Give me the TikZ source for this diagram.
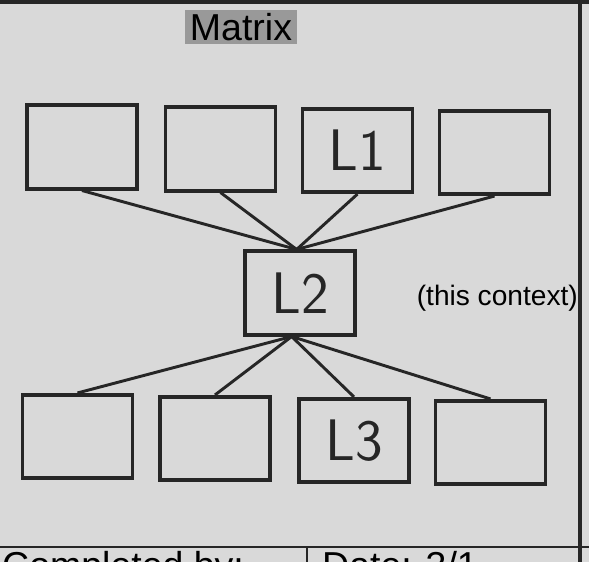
\documentclass[tikz,border=0pt]{standalone}
\usepackage{fontspec}
\setmainfont{Liberation Sans}
\begin{document}
\begin{tikzpicture}[x=0.03cm, y=0.03cm,
  cell/.style={draw=black!85, line width=3.2pt, minimum width=3.3cm,
    minimum height=2.5cm, inner sep=0pt},
  link/.style={draw=black!85, line width=2.5pt},
  hand/.style={font=\sffamily\fontsize{50}{50}\selectfont, text=black!85}]
  % folha
  \useasboundingbox (0,0) rectangle (589,562);
  \clip (0,0) rectangle (589,562);
  \fill[black!15] (0,0) rectangle (589,562);
  % moldura
  \draw[line width=3pt, black!85] (0,560) -- (589,560);
  \draw[line width=3pt, black!85] (580,0) -- (580,562);
  \draw[line width=2.5pt, black!85] (0,15) -- (589,15);
  \draw[line width=2.5pt, black!85] (307,15) -- (307,0);
  % titulo
  \node[fill=black!40, inner xsep=4pt, inner ysep=3pt,
    font=\fontsize{32}{32}\selectfont] (title) at (241,535) {Matrix};
  % linha de cima
  \node[cell] (a1) at (82,415) {};
  \node[cell] (a2) at (220.5,413) {};
  \node[cell, hand] (a3) at (357.5,411.5) {L1};
  \node[cell] (a4) at (494.5,409.5) {};
  % centro
  \node[cell, hand] (l2) at (300,269) {L2};
  \node[anchor=east, inner sep=0pt, font=\fontsize{24}{24}\selectfont]
    (ctx) at (578,264) {(this context)};
  % linha de baixo
  \node[cell] (b1) at (77.5,125.5) {};
  \node[cell] (b2) at (215,123.5) {};
  \node[cell, hand] (b3) at (354,121.5) {L3};
  \node[cell] (b4) at (490.5,119.5) {};
  % ligacoes
  \draw[link] (a1.south) -- ([xshift=-0.1cm]l2.north);
  \draw[link] (a2.south) -- ([xshift=-0.1cm]l2.north);
  \draw[link] (a3.south) -- ([xshift=-0.1cm]l2.north);
  \draw[link] (a4.south) -- ([xshift=-0.1cm]l2.north);
  \draw[link] ([xshift=-0.25cm]l2.south) -- (b1.north);
  \draw[link] ([xshift=-0.25cm]l2.south) -- (b2.north);
  \draw[link] ([xshift=-0.25cm]l2.south) -- (b3.north);
  \draw[link] ([xshift=-0.25cm]l2.south) -- (b4.north);
  % rodape, cortado
  \node[anchor=north west, inner sep=0pt, font=\fontsize{32}{32}\selectfont]
    (done) at (2,11) {Completed by:};
  \node[anchor=north west, inner sep=0pt, font=\fontsize{32}{32}\selectfont]
    (date) at (322,11) {Date: 3/1};
\end{tikzpicture}
\end{document}
